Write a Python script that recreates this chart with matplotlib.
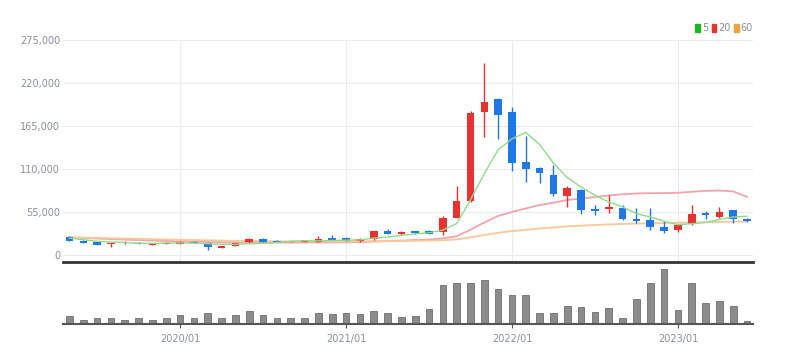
import matplotlib
matplotlib.use('Agg')
import matplotlib.pyplot as plt
from matplotlib.patches import Patch
import numpy as np
import pandas as pd

# monthly candles, 2019/05 .. 2023/06
months = list(pd.period_range('2019-05', '2023-06', freq='M').strftime('%Y/%m'))

opens = [23000, 18300, 16200, 14000, 15000, 15300, 12800, 14500, 14500, 17000,
         15000, 9300, 11500, 16200, 20800, 18000, 16500, 17000, 17000, 21300,
         21300, 17500, 20000, 31000, 26500, 30300, 30300, 29800, 47700, 69500,
         182500, 199000, 183300, 118600, 111700, 102300, 75000, 82700, 58800, 58500,
         60500, 46000, 44800, 35400, 32000, 39700, 54100, 49000, 57200, 46000]
highs = [24500, 19000, 16800, 15800, 17500, 16000, 15000, 17000, 17500, 18000,
         15500, 11500, 15500, 21500, 22000, 19000, 18500, 19500, 24500, 26000,
         22500, 21800, 31000, 32900, 30500, 31000, 32000, 50300, 88300, 184500,
         246000, 200400, 189000, 152200, 112500, 115100, 88300, 84000, 64000, 76700,
         64000, 60500, 60500, 43500, 34000, 64000, 56700, 61000, 58000, 47000]
lows = [17500, 15000, 12800, 10600, 14500, 13500, 12300, 14000, 14000, 15000,
        6400, 8500, 11000, 15500, 16500, 16000, 16000, 16500, 16500, 19000,
        18000, 17000, 19500, 26500, 26000, 27000, 26500, 25600, 47000, 68000,
        150500, 148800, 107800, 93800, 91700, 76000, 61000, 52000, 51200, 54000,
        44800, 40500, 32000, 28500, 29800, 38400, 45700, 47000, 40500, 42000]
closes = [18500, 15700, 13200, 15300, 17000, 14000, 14500, 15700, 16200, 15500,
          9800, 11100, 15000, 20800, 17000, 16500, 18000, 19000, 20000, 19200,
          18300, 20000, 30300, 27000, 29800, 27700, 26800, 47700, 69000, 182000,
          196000, 178700, 117300, 109600, 104500, 78000, 85300, 57500, 56700, 61400,
          45600, 43100, 36200, 30300, 38400, 52000, 50800, 55400, 46400, 43100]

ma5 = [21500, 19500, 17500, 16500, 15940, 15040, 14800, 15300, 15480, 15180,
       14340, 13660, 13520, 14440, 14740, 16080, 17460, 18260, 18100, 18540,
       18900, 19300, 21560, 22960, 25080, 26960, 28320, 31800, 40200, 70640,
       104300, 134680, 148600, 156720, 141220, 117620, 98940, 86980, 76400, 67780,
       61300, 52860, 48600, 43320, 38720, 40000, 41540, 45380, 48600, 49540]
ma20 = [22500, 21800, 21000, 20300, 19600, 19000, 18400, 17900, 17400, 17000,
        16600, 16200, 16000, 16000, 15900, 15800, 15800, 15900, 16000, 16100,
        16090, 16305, 17160, 17745, 18385, 19070, 19685, 21285, 23925, 32250,
        41560, 49940, 55055, 59495, 63870, 66945, 70310, 72235, 74070, 76180,
        77545, 78700, 78995, 79160, 79590, 80805, 82005, 82390, 81260, 74315]
ma60 = [22500, 22200, 21800, 21400, 21000, 20600, 20200, 19800, 19400, 19100,
        18700, 18400, 18100, 17900, 17700, 17500, 17400, 17300, 17300, 17300,
        17300, 17400, 17600, 17800, 18000, 18200, 18400, 18900, 19800, 22500,
        25600, 28400, 30400, 32200, 33900, 35200, 36600, 37500, 38300, 39100,
        39700, 40200, 40600, 40900, 41200, 41600, 42000, 42400, 42600, 42800]

volumes = [800, 400, 600, 600, 400, 600, 400, 630, 900, 600,
           1130, 630, 900, 1300, 930, 600, 630, 600, 1070, 970,
           1100, 970, 1300, 1130, 730, 800, 1470, 3870, 4100, 4030,
           4370, 3470, 2900, 2900, 1130, 1130, 1800, 1730, 1230, 1630,
           600, 2430, 4030, 5430, 1430, 4100, 2070, 2300, 1800, 300]

year_ticks = ['2020/01', '2021/01', '2022/01', '2023/01']
price_ticks = [0, 55000, 110000, 165000, 220000, 275000]

UP = '#e8322f'
DOWN = '#1f78e6'
FONT = ['Liberation Sans Narrow', 'DejaVu Sans']
GRAY = '#8a8f98'

x = np.arange(len(months))
tick_pos = [months.index(t) for t in year_ticks]

fig = plt.figure(figsize=(7.92, 3.64), dpi=100)
ax = fig.add_axes([63 / 792, 1 - 262 / 364, 690 / 792, 222 / 364])
axv = fig.add_axes([63 / 792, 1 - 324 / 364, 690 / 792, 56 / 364])

o = np.array(opens)
c = np.array(closes)
up = c >= o
colors = np.where(up, UP, DOWN)
bottom = np.minimum(o, c)
height = np.maximum(np.abs(c - o), 900)

ax.vlines(x, lows, highs, colors=colors, linewidth=1, zorder=3)
ax.bar(x, height, bottom=bottom, width=0.55, color=colors, zorder=4)

ax.plot(x, ma5, color='#8fdc8a', linewidth=1, zorder=5)
ax.plot(x, ma20, color='#f4a3ac', linewidth=1.3, zorder=2)
ax.plot(x, ma60, color='#f9c79b', linewidth=1.3, zorder=2)

ax.set_xlim(-0.47, 49.43)
ax.set_ylim(-9000, 275000)
ax.set_yticks(price_ticks)
ax.set_yticklabels([f'{v:,}' for v in price_ticks], family=FONT, fontsize=7, color=GRAY)
ax.set_xticks(tick_pos)
ax.tick_params(axis='x', length=0, labelbottom=False)
ax.tick_params(axis='y', length=0, pad=2)
ax.grid(True, color='#ececec', linewidth=0.8, zorder=0)
for s in ['top', 'right', 'left']:
    ax.spines[s].set_visible(False)
ax.spines['bottom'].set_color('#333333')
ax.spines['bottom'].set_linewidth(2)

leg = ax.legend(handles=[Patch(color='#22b522', label='5'),
                         Patch(color='#e8322f', label='20'),
                         Patch(color='#f0a040', label='60')],
                loc='lower right', bbox_to_anchor=(1.0, 1.03), ncol=3, frameon=False,
                handlelength=0.45, handleheight=0.9, handletextpad=0.2,
                columnspacing=0.4, borderpad=0, borderaxespad=0,
                prop={'family': FONT, 'size': 7})
for t in leg.get_texts():
    t.set_color(GRAY)

axv.bar(x, volumes, width=0.48, color='#8c8c8c', edgecolor='#6e6e6e', linewidth=0.6)
axv.set_xlim(-0.47, 49.43)
axv.set_ylim(0, max(volumes) * 1.02)
axv.set_yticks([])
axv.set_xticks(tick_pos)
axv.set_xticklabels(year_ticks, family=FONT, fontsize=7, color=GRAY)
axv.tick_params(axis='x', length=3, color='#555555', pad=4)
for s in ['top', 'right', 'left']:
    axv.spines[s].set_visible(False)
axv.spines['bottom'].set_color('#555555')
axv.spines['bottom'].set_linewidth(1.5)

fig.savefig('out.png', dpi=100)
